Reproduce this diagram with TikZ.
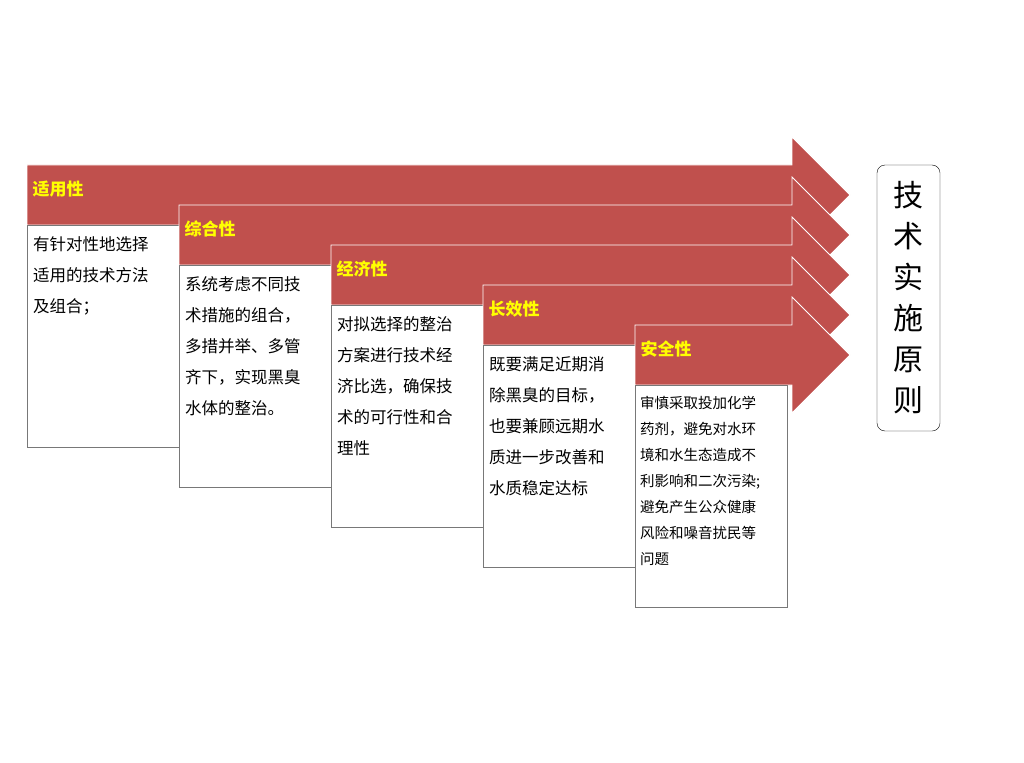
\documentclass[tikz,border=0pt]{standalone}
\usepackage{fontspec}
\setmainfont{Noto Sans CJK SC}
\begin{document}
\begin{tikzpicture}[x=1pt,y=-1pt,
 arr/.style={fill={rgb,255:red,192;green,80;blue,77},draw=white,line width=0.8pt},
 txtbox/.style={draw={rgb,255:red,120;green,120;blue,120},fill=white,line width=0.6pt},
 lab/.style={anchor=west,text={rgb,255:red,255;green,255;blue,0},font=\bfseries\fontsize{17}{20}\selectfont},
 body/.style={anchor=north west,align=left,inner sep=0pt,font=\fontsize{16.5}{31}\selectfont},
 bodys/.style={anchor=north west,align=left,inner sep=0pt,font=\fontsize{14.5}{26}\selectfont}]
\useasboundingbox (0,0) rectangle (1024,762);
\foreach \i in {0,...,4}{
 \pgfmathsetmacro{\xa}{27+152*\i}
 \pgfmathsetmacro{\ya}{165+40*\i}
 \draw[arr] (\xa,\ya) -- (792,\ya) -- (792,\ya-28) -- (850,\ya+30) -- (792,\ya+88) -- (792,\ya+60) -- (\xa,\ya+60) -- cycle;
 \draw[txtbox] (\xa,\ya+60) rectangle (\xa+152,\ya+282);
}
\node[lab] (l1) at (29,189) {适用性};
\node[lab] (l2) at (181,229) {综合性};
\node[lab] (l3) at (333,269) {经济性};
\node[lab] (l4) at (485,309) {长效性};
\node[lab] (l5) at (637,349) {安全性};
\node[body] (t1) at (33,236) {有针对性地选择\\适用的技术方法\\及组合；};
\node[body] (t2) at (185,276) {系统考虑不同技\\术措施的组合，\\多措并举、多管\\齐下，实现黑臭\\水体的整治。};
\node[body] (t3) at (337,316) {对拟选择的整治\\方案进行技术经\\济比选，确保技\\术的可行性和合\\理性};
\node[body] (t4) at (489,356) {既要满足近期消\\除黑臭的目标，\\也要兼顾远期水\\质进一步改善和\\水质稳定达标};
\node[bodys] (t5) at (640,396) {审慎采取投加化学\\药剂，避免对水环\\境和水生态造成不\\利影响和二次污染;\\避免产生公众健康\\风险和噪音扰民等\\问题};
\node[draw=black,fill=white,rounded corners=8pt,minimum width=63pt,minimum height=266pt,align=center,inner sep=0pt,font=\fontsize{30}{41}\selectfont] (side) at (908.5,298) {技\\术\\实\\施\\原\\则};
\end{tikzpicture}
\end{document}
